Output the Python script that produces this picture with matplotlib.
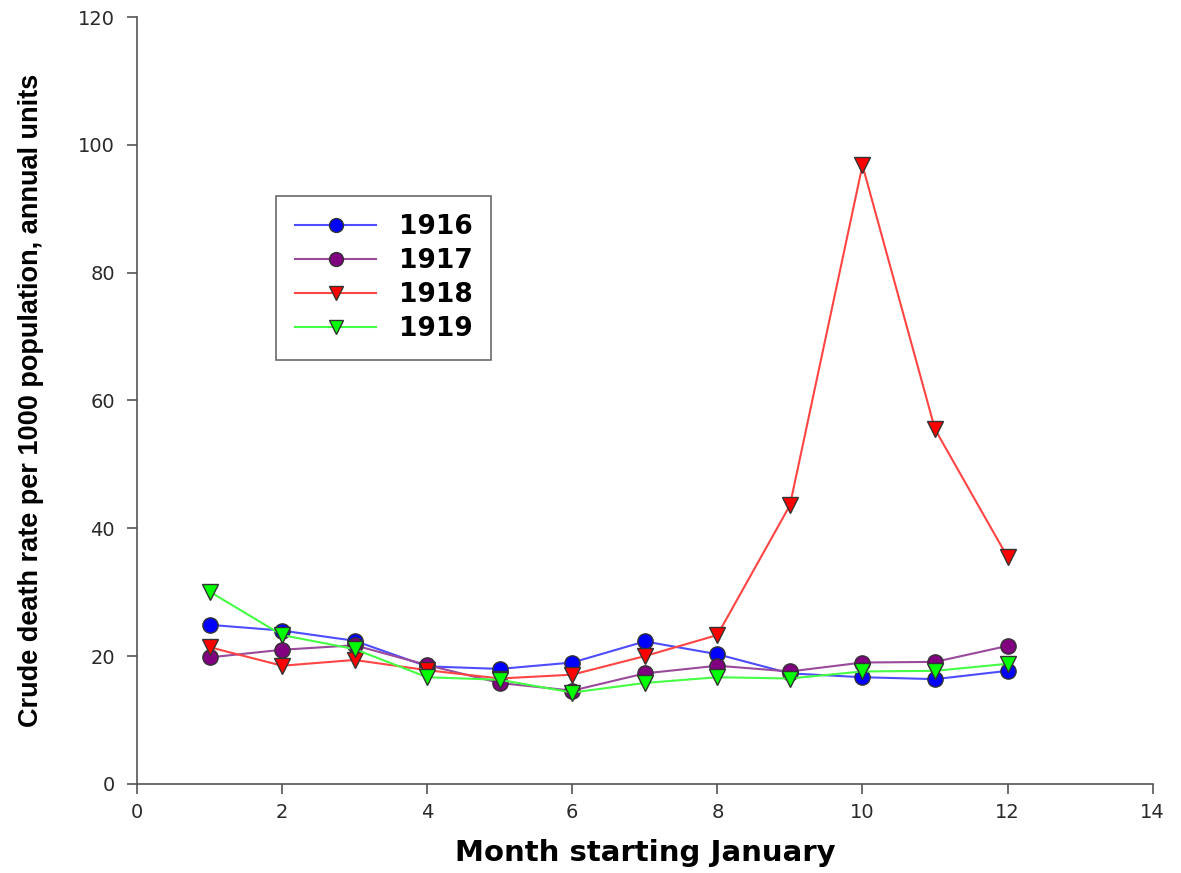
import matplotlib.pyplot as plt
import numpy as np

months = np.arange(1, 13)

rate_1916 = [24.9, 24.0, 22.4, 18.4, 18.0, 19.0, 22.3, 20.3, 17.3, 16.7, 16.4, 17.7]
rate_1917 = [19.8, 21.0, 21.7, 18.6, 15.8, 14.6, 17.3, 18.5, 17.6, 19.0, 19.1, 21.6]
rate_1918 = [21.4, 18.5, 19.4, 17.8, 16.5, 17.1, 20.0, 23.3, 43.6, 96.8, 55.5, 35.5]
rate_1919 = [30.1, 23.3, 21.1, 16.7, 16.3, 14.3, 15.8, 16.7, 16.5, 17.6, 17.7, 18.8]

years = ['1916', '1917', '1918', '1919']
series = [rate_1916, rate_1917, rate_1918, rate_1919]
markers = ['o', 'o', 'v', 'v']
line_colors = ['#4d4dff', '#9a4a9a', '#ff4444', '#44ff44']
face_colors = ['#0000ff', '#800080', '#ff0000', '#00ff00']

fig = plt.figure(figsize=(11.81, 8.73), dpi=100)
ax = fig.add_axes([0.116, 0.102, 0.86, 0.8785])

for yr, vals, mk, lc, fc in zip(years, series, markers, line_colors, face_colors):
    ax.plot(months, vals, color=lc, linewidth=1.5, marker=mk, markersize=11,
            markerfacecolor=fc, markeredgecolor='#333333', markeredgewidth=1.0,
            label=yr)

ax.set_xlim(0, 14)
ax.set_ylim(0, 120)
ax.set_xticks(np.arange(0, 15, 2))
ax.set_yticks(np.arange(0, 121, 20))

for s in ['top', 'right']:
    ax.spines[s].set_visible(False)
for s in ['left', 'bottom']:
    ax.spines[s].set_color('#555555')
    ax.spines[s].set_linewidth(1.2)
ax.tick_params(direction='out', length=7, width=1.2, color='#555555',
               labelsize=14, labelcolor='#2a2a2a')
ax.tick_params(axis='y', pad=9)
ax.tick_params(axis='x', pad=7)

ax.set_xlabel('Month starting January', fontsize=21, fontweight='bold',
              family=['DejaVu Sans'], labelpad=12)
ax.set_ylabel('Crude death rate per 1000 population, annual units', fontsize=19.5,
              fontweight='bold', family=['Liberation Sans Narrow', 'Liberation Sans', 'DejaVu Sans'],
              labelpad=24)

leg = ax.legend(loc='upper left', bbox_to_anchor=(0.137, 0.767), borderaxespad=0,
                frameon=True, fancybox=False, edgecolor='#444444', borderpad=0.7,
                handlelength=3.1, handletextpad=0.85, labelspacing=0.3,
                prop={'size': 19, 'weight': 'bold', 'family': ['DejaVu Sans']})
leg.get_frame().set_linewidth(1.2)
for h in leg.legend_handles:
    h.set_markersize(10)

fig.savefig('out.png', dpi=100)
